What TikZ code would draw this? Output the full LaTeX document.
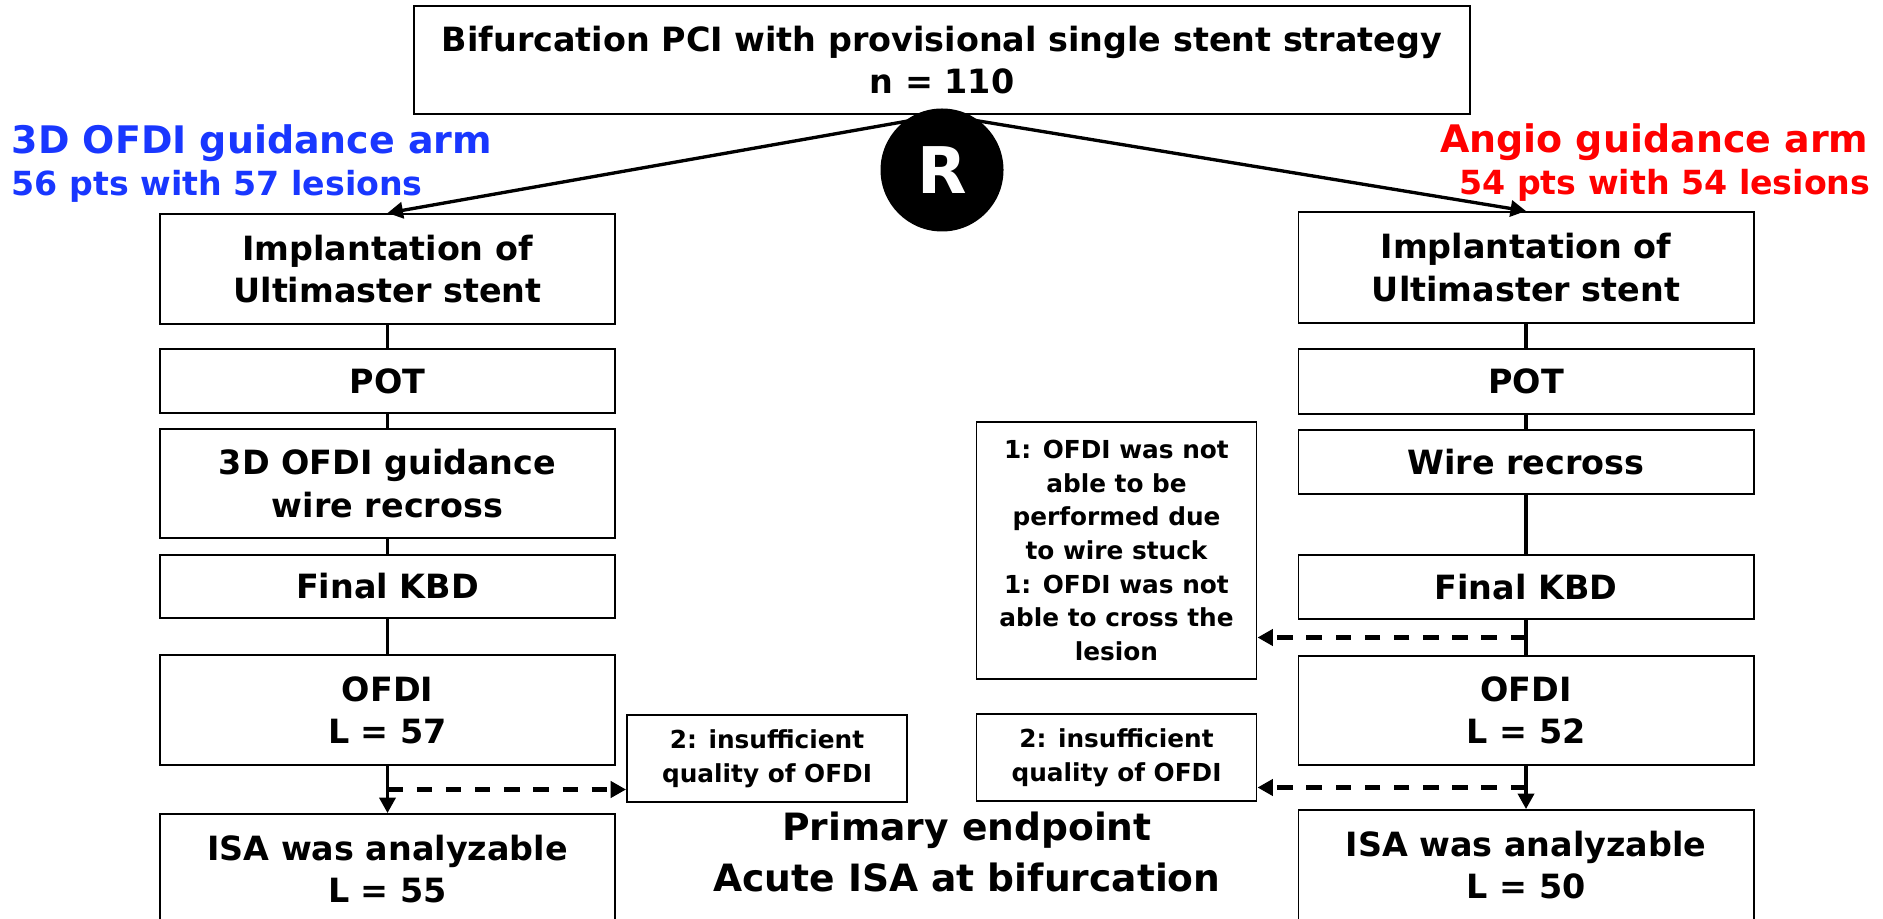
\documentclass[tikz,border=0pt]{standalone}
\usepackage{fontspec}
\setmainfont{DejaVu Sans}
\usetikzlibrary{calc,positioning,arrows.meta}
\definecolor{armblue}{RGB}{25,55,255}
\definecolor{armred}{RGB}{255,0,0}

\begin{document}
\begin{tikzpicture}[box/.style={draw,line width=0.55pt,minimum width=4.55cm,align=center,inner sep=1pt,font=\fontsize{9.5}{12}\bfseries},
    note/.style={draw,line width=0.55pt,minimum width=2.8cm,align=center,inner sep=1pt,font=\fontsize{7.05}{9.55}\bfseries},
    arm/.style={inner sep=0pt,font=\fontsize{10.8}{13}\bfseries},
    pts/.style={inner sep=0pt,font=\fontsize{9.45}{12}\bfseries},
    link/.style={line width=0.95pt},
    tip/.style={-{Triangle[length=4.4pt,width=4.6pt]}},
    skip/.style={line width=1.15pt,tip,dash pattern=on 4.4pt off 3.9pt}]
      \clip (0,0) rectangle (18.83,-9.19);

      \node[draw,line width=0.55pt,minimum width=10.56cm,minimum height=1.08cm,align=center,font=\fontsize{9.5}{12}\bfseries] (top) at (9.42,-0.60) {Bifurcation PCI with provisional single stent strategy\\n = 110};

      \node[arm,anchor=base west,text=armblue] (arm1) at (0.11,-1.54) {3D OFDI guidance arm};
      \node[pts,anchor=base west,text=armblue] (pts1) at (0.11,-1.96) {56 pts with 57 lesions};
      \node[arm,anchor=base east,text=armred] (arm2) at (18.69,-1.53) {Angio guidance arm};
      \node[pts,anchor=base east,text=armred] (pts2) at (18.71,-1.95) {54 pts with 54 lesions};

      % OFDI arm
      \node[box,minimum height=1.10cm] (imp1) at (3.875,-2.69) {Implantation of\\Ultimaster stent};
      \node[box,minimum height=0.64cm] (pot1) at (3.875,-3.81) {POT};
      \node[box,minimum height=1.09cm] (wire1) at (3.875,-4.835) {3D OFDI guidance\\wire recross};
      \node[box,minimum height=0.63cm] (kbd1) at (3.875,-5.865) {Final KBD};
      \node[box,minimum height=1.10cm] (ofdi1) at (3.875,-7.10) {OFDI\\L = 57};
      \node[box,minimum height=1.10cm] (isa1) at (3.875,-8.69) {ISA was analyzable\\L = 55};

      % angio arm
      \node[box,minimum height=1.11cm] (imp2) at (15.26,-2.675) {Implantation of\\Ultimaster stent};
      \node[box,minimum height=0.65cm] (pot2) at (15.26,-3.815) {POT};
      \node[box,minimum height=0.645cm] (wire2) at (15.26,-4.62) {Wire recross};
      \node[box,minimum height=0.64cm] (kbd2) at (15.26,-5.87) {Final KBD};
      \node[box,minimum height=1.09cm] (ofdi2) at (15.26,-7.105) {OFDI\\L = 52};
      \node[box,minimum height=1.10cm] (isa2) at (15.26,-8.65) {ISA was analyzable\\L = 50};

      \node[note,minimum height=0.875cm] (poor1) at (7.67,-7.585) {2: insufficient\\quality of OFDI};
      \node[note,minimum height=2.57cm] (fail2) at (11.165,-5.505) {1: OFDI was not\\able to be\\performed due\\to wire stuck\\1: OFDI was not\\able to cross the\\lesion};
      \node[note,minimum height=0.87cm] (poor2) at (11.165,-7.575) {2: insufficient\\quality of OFDI};

      \node[align=center,font=\fontsize{10.7}{14.5}\bfseries] (goal) at (9.67,-8.515) {Primary endpoint\\Acute ISA at bifurcation};

      \draw[link,tip] (top.south) -- (imp1.north);
      \draw[link,tip] (top.south) -- (imp2.north);
      \node[circle,fill=black,minimum size=1.23cm,inner sep=0pt,text=white,font=\fontsize{18.3}{20}\bfseries] (rand) at (9.42,-1.70) {R};

      \draw[link] (imp1) -- (pot1) -- (wire1) -- (kbd1) -- (ofdi1);
      \draw[link,tip] (ofdi1) -- (isa1);
      \coordinate (drop1) at ($(ofdi1.south)!0.5!(isa1.north)$);
      \draw[skip] (drop1) -- (drop1 -| poor1.west);

      \draw[link] (imp2) -- (pot2) -- (wire2) -- (kbd2) -- (ofdi2);
      \draw[link,tip] (ofdi2) -- (isa2);
      \coordinate (drop2) at ($(kbd2.south)!0.5!(ofdi2.north)$);
      \coordinate (drop3) at ($(ofdi2.south)!0.5!(isa2.north)$);
      \draw[skip] (drop2) -- (drop2 -| fail2.east);
      \draw[skip] (drop3) -- (drop3 -| poor2.east);

     \end{tikzpicture}
\end{document}
